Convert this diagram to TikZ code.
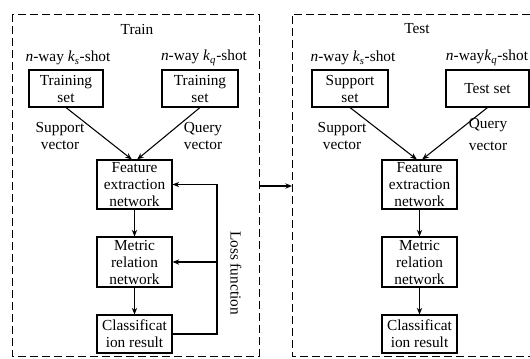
\documentclass[tikz,border=0pt]{standalone}
\usepackage{fontspec}
\setmainfont{Liberation Serif}
\usetikzlibrary{arrows, arrows.meta}

\begin{document}
\begin{tikzpicture}[x=0.75pt, y=-0.75pt,
  txt/.style={font=\fontsize{11.5}{12.75}\selectfont, align=center, inner sep=0pt},
  box/.style={txt, draw, line width=0.8pt, minimum height=27.75pt},
  panel/.style={line width=0.7pt, dash pattern=on 6pt off 3pt},
  arr/.style={-{Stealth[length=5pt, width=4pt]}, line width=0.8pt}]
  \useasboundingbox (0,0) rectangle (530,358);

  % Panels
  \draw[panel] (12,14) rectangle (259,356);
  \draw[panel] (530,14) -- (292,14) -- (292,356) -- (530,356);
  \node[txt] (train) at (137,29) {Train};
  \node[txt] (test) at (417,29) {Test};

  % Train side
  \node[txt] (way1) at (68,58) {\textit{n}-way \textit{k}\textsubscript{\textit{s}}-shot};
  \node[txt] (way2) at (204,58) {\textit{n}-way \textit{k}\textsubscript{\textit{q}}-shot};
  \node[box, minimum width=55.5pt] (ts1) at (66,88.5) {Training\\set};
  \node[box, minimum width=57pt] (ts2) at (200,88.5) {Training\\set};
  \node[box, minimum width=56.25pt, minimum height=36.75pt] (fe1) at (134.5,184.5) {Feature\\extraction\\network};
  \node[box, minimum width=56.25pt, minimum height=37.5pt] (mr1) at (134.5,262) {Metric\\relation\\network};
  \node[box, minimum width=56.25pt, minimum height=28.5pt] (cr1) at (134.5,334) {Classificat\\ion result};
  \node[txt] (sv1) at (60,135.5) {Support\\vector};
  \node[txt] (qv1) at (203,135.5) {Query\\vector};
  \node[txt, rotate=-90] (loss) at (236,273) {Loss function};
  \coordinate (lossx) at (217,184.5);

  \draw[arr] (ts1.south) -- ([xshift=-2pt]fe1.north);
  \draw[arr] (ts2.south) -- ([xshift=2pt]fe1.north);
  \draw[arr] (fe1) -- (mr1);
  \draw[arr] (mr1) -- (cr1);
  \draw[arr] (cr1.east) -| (lossx) -- (fe1.east);
  \draw[arr] (lossx |- mr1.east) -- (mr1.east);

  % Train -> Test
  \coordinate (trainR) at (259,186);
  \coordinate (testL) at (292,186);
  \draw[arr] (trainR) -- (testL);

  % Test side
  \node[txt] (way3) at (353,58) {\textit{n}-way \textit{k}\textsubscript{\textit{s}}-shot};
  \node[txt] (way4) at (487,58) {\textit{n}-way\textit{k}\textsubscript{\textit{q}}-shot};
  \node[box, minimum width=57pt] (ss) at (350,88.5) {Support\\set};
  \node[box, minimum width=62.25pt] (tst) at (487.5,88.5) {Test set};
  \node[box, minimum width=56.25pt, minimum height=36.75pt] (fe2) at (419.5,184.5) {Feature\\extraction\\network};
  \node[box, minimum width=56.25pt, minimum height=37.5pt] (mr2) at (419.5,262) {Metric\\relation\\network};
  \node[box, minimum width=56.25pt, minimum height=28.5pt] (cr2) at (419.5,334) {Classificat\\ion result};
  \node[txt] (sv2) at (342,135.5) {Support\\vector};
  \node[txt, font=\fontsize{11.5}{17}\selectfont] (qv2) at (488,134.5) {Query\\vector};

  \draw[arr] (ss.south) -- ([xshift=-2pt]fe2.north);
  \draw[arr] (tst.south) -- ([xshift=2pt]fe2.north);
  \draw[arr] (fe2) -- (mr2);
  \draw[arr] (mr2) -- (cr2);
\end{tikzpicture}
\end{document}
